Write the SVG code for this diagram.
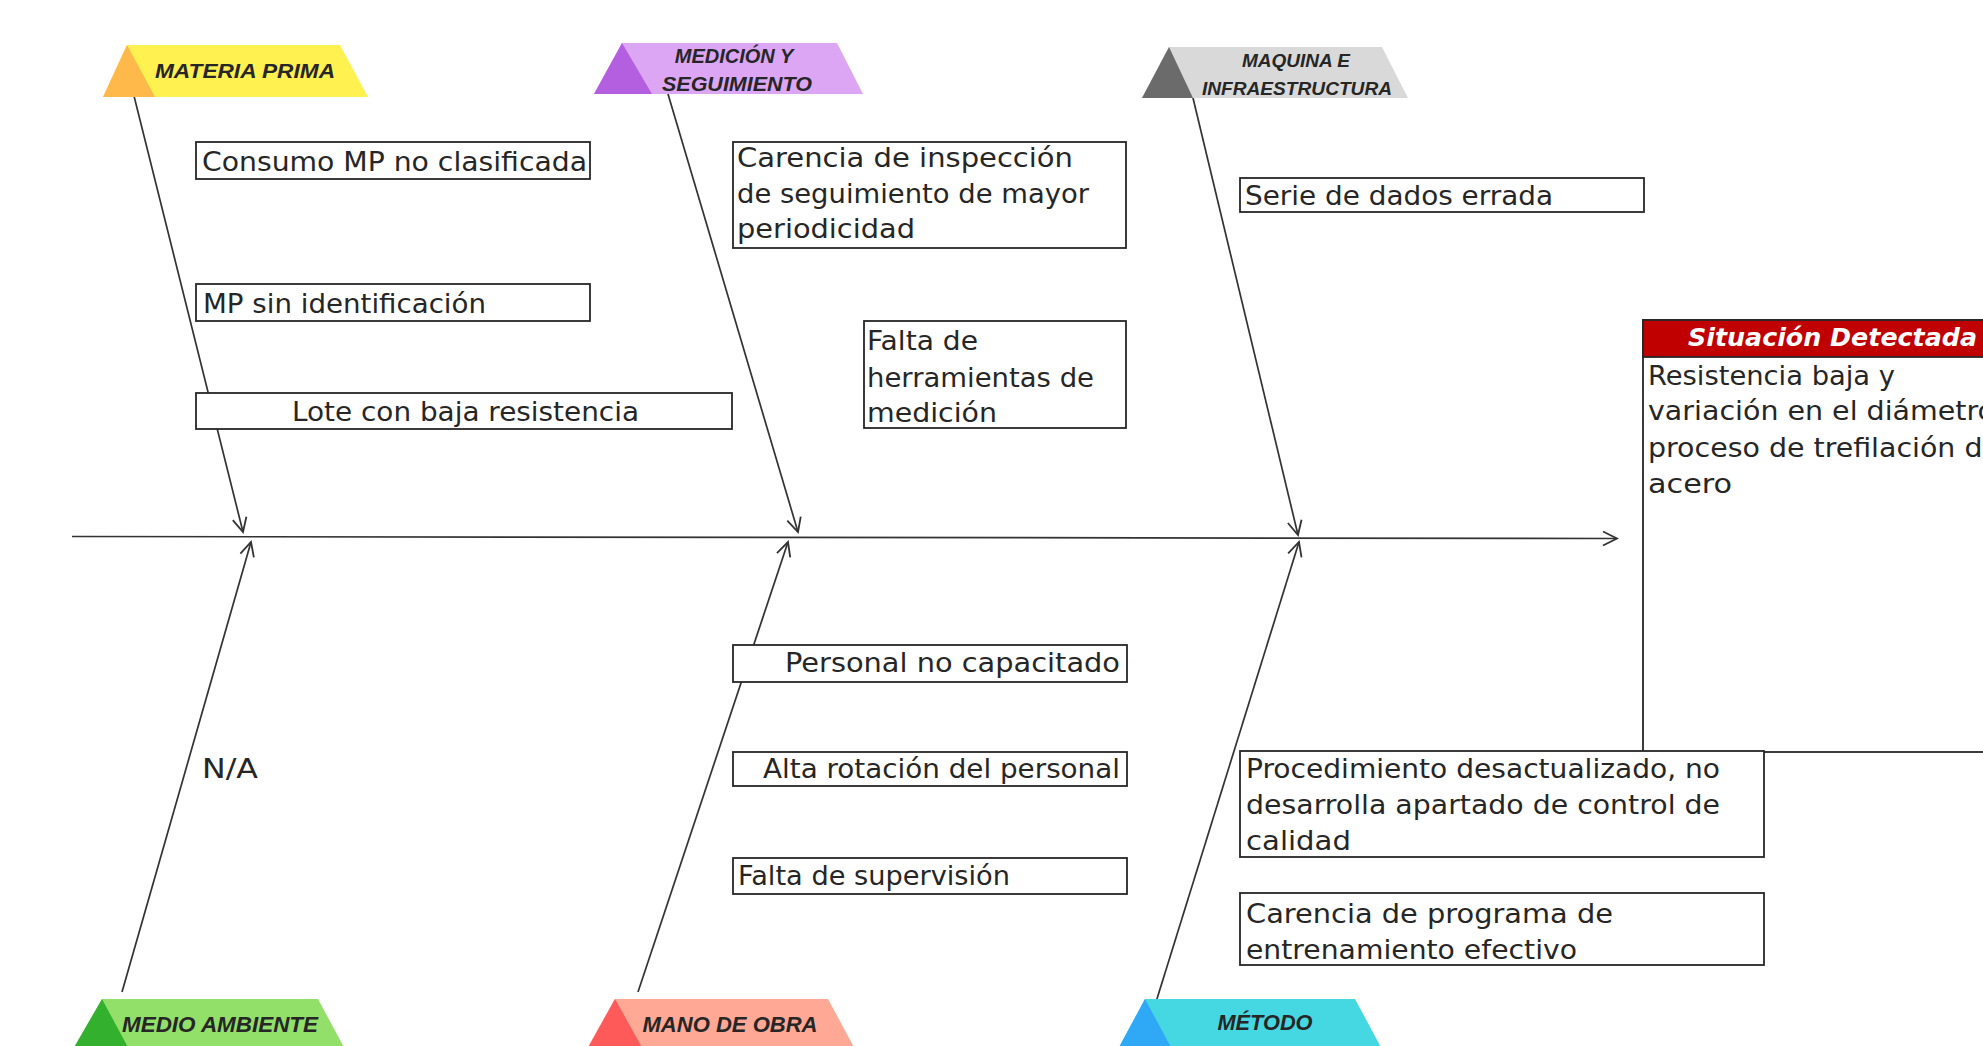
<svg xmlns="http://www.w3.org/2000/svg" width="1983" height="1046" viewBox="0 0 1983 1046">
<style>
.cat{font-family:"Liberation Sans",Arial,sans-serif;font-weight:bold;font-style:italic;fill:#262626;text-anchor:middle}
.box{fill:#fff;stroke:#262626;stroke-width:1.8}
.t{font-family:"DejaVu Sans","Noto Sans",sans-serif;font-size:26px;fill:#262626}
.ln{stroke:#333;stroke-width:1.7;fill:none}
</style>
<defs>
<marker id="ah" viewBox="0 0 18 18" refX="16" refY="9" markerWidth="18" markerHeight="18" markerUnits="userSpaceOnUse" orient="auto">
<path d="M2,2 L16,9 L2,16" fill="none" stroke="#333" stroke-width="1.8"/>
</marker>
</defs>
<rect width="1983" height="1046" fill="#fff"/>

<g id="connectors">
<line class="ln" x1="72" y1="536.5" x2="1617" y2="538.5" marker-end="url(#ah)"/>
<line class="ln" x1="133" y1="92" x2="243" y2="532" marker-end="url(#ah)"/>
<line class="ln" x1="668" y1="94" x2="798" y2="532" marker-end="url(#ah)"/>
<line class="ln" x1="1193" y1="98" x2="1298" y2="535" marker-end="url(#ah)"/>
<line class="ln" x1="122" y1="992" x2="251" y2="542" marker-end="url(#ah)"/>
<line class="ln" x1="638" y1="992" x2="788" y2="542" marker-end="url(#ah)"/>
<line class="ln" x1="1156" y1="1002" x2="1299" y2="542" marker-end="url(#ah)"/>
</g>

<g id="cat-materia-prima">
<polygon points="103,97 127,45 340,45 368,97" fill="#FFF150"/>
<polygon points="103,97 127,45 155,97" fill="#FFB84A"/>
<text class="cat" x="245" y="78" font-size="21" textLength="180" lengthAdjust="spacingAndGlyphs">MATERIA PRIMA</text>
</g>
<g id="cat-medicion">
<polygon points="594,94 622,43 837,43 863,94" fill="#DDA6F5"/>
<polygon points="594,94 622,43 652,94" fill="#B45FE0"/>
<text class="cat" x="734" y="63" font-size="20">MEDICIÓN Y</text>
<text class="cat" x="737" y="91" font-size="20" textLength="150" lengthAdjust="spacingAndGlyphs">SEGUIMIENTO</text>
</g>
<g id="cat-maquina">
<polygon points="1142,98 1169,47 1382,47 1408,98" fill="#D9D9D9"/>
<polygon points="1142,98 1169,47 1193,98" fill="#6B6B6B"/>
<text class="cat" x="1296" y="67" font-size="19">MAQUINA E</text>
<text class="cat" x="1297" y="95" font-size="19" textLength="190" lengthAdjust="spacingAndGlyphs">INFRAESTRUCTURA</text>
</g>
<g id="cat-medio-ambiente">
<polygon points="72,1051 102,999 318,999 346,1051" fill="#92E06A"/>
<polygon points="72,1051 102,999 130,1051" fill="#32B02E"/>
<text class="cat" x="220" y="1032" font-size="22" textLength="196" lengthAdjust="spacingAndGlyphs">MEDIO AMBIENTE</text>
</g>
<g id="cat-mano-de-obra">
<polygon points="586,1051 615,999 828,999 856,1051" fill="#FFA895"/>
<polygon points="586,1051 615,999 644,1051" fill="#FF5A5A"/>
<text class="cat" x="730" y="1032" font-size="22" textLength="175" lengthAdjust="spacingAndGlyphs">MANO DE OBRA</text>
</g>
<g id="cat-metodo">
<polygon points="1117,1051 1145,999 1355,999 1383,1051" fill="#45D8E3"/>
<polygon points="1117,1051 1145,999 1173,1051" fill="#2FA8F5"/>
<text class="cat" x="1265" y="1030" font-size="22" textLength="95" lengthAdjust="spacingAndGlyphs">MÉTODO</text>
</g>

<g id="c-consumo">
<rect class="box" x="196" y="142" width="394" height="37"/>
<text class="t" x="202" y="171" textLength="385" lengthAdjust="spacingAndGlyphs">Consumo MP no clasificada</text>
</g>
<g id="c-mp-sin">
<rect class="box" x="196" y="284" width="394" height="37"/>
<text class="t" x="203" y="313" textLength="283" lengthAdjust="spacingAndGlyphs">MP sin identificación</text>
</g>
<g id="c-lote">
<rect class="box" x="196" y="393" width="536" height="36"/>
<text class="t" x="292" y="421" textLength="347" lengthAdjust="spacingAndGlyphs">Lote con baja resistencia</text>
</g>
<g id="c-carencia-insp">
<rect class="box" x="733" y="142" width="393" height="106"/>
<text class="t" x="737" y="167" textLength="336" lengthAdjust="spacingAndGlyphs">Carencia de inspección</text>
<text class="t" x="737" y="203" textLength="352" lengthAdjust="spacingAndGlyphs">de seguimiento de mayor</text>
<text class="t" x="737" y="238" textLength="178" lengthAdjust="spacingAndGlyphs">periodicidad</text>
</g>
<g id="c-falta-herr">
<rect class="box" x="864" y="321" width="262" height="107"/>
<text class="t" x="867" y="350" textLength="111" lengthAdjust="spacingAndGlyphs">Falta de</text>
<text class="t" x="867" y="387" textLength="227" lengthAdjust="spacingAndGlyphs">herramientas de</text>
<text class="t" x="867" y="422" textLength="130" lengthAdjust="spacingAndGlyphs">medición</text>
</g>
<g id="c-serie">
<rect class="box" x="1240" y="178" width="404" height="34"/>
<text class="t" x="1245" y="205" textLength="308" lengthAdjust="spacingAndGlyphs">Serie de dados errada</text>
</g>
<g id="c-na">
<text class="t" x="202" y="778" textLength="56" lengthAdjust="spacingAndGlyphs">N/A</text>
</g>
<g id="c-personal">
<rect class="box" x="733" y="645" width="394" height="37"/>
<text class="t" x="785" y="672" textLength="335" lengthAdjust="spacingAndGlyphs">Personal no capacitado</text>
</g>
<g id="c-alta">
<rect class="box" x="733" y="752" width="394" height="34"/>
<text class="t" x="763" y="778" textLength="357" lengthAdjust="spacingAndGlyphs">Alta rotación del personal</text>
</g>
<g id="c-falta-sup">
<rect class="box" x="733" y="858" width="394" height="36"/>
<text class="t" x="738" y="885" textLength="272" lengthAdjust="spacingAndGlyphs">Falta de supervisión</text>
</g>

<g id="situacion">
<rect class="box" x="1643" y="320" width="360" height="432"/>
<rect x="1643" y="320" width="360" height="37" fill="#C00000" stroke="#262626" stroke-width="1.8"/>
<text x="1688" y="346" font-family="'DejaVu Sans','Noto Sans',sans-serif" font-size="25" font-weight="bold" font-style="italic" fill="#fff" textLength="289" lengthAdjust="spacingAndGlyphs">Situación Detectada</text>
<text class="t" x="1648" y="385" textLength="247" lengthAdjust="spacingAndGlyphs">Resistencia baja y</text>
<text class="t" x="1648" y="420" textLength="347" lengthAdjust="spacingAndGlyphs">variación en el diámetro</text>
<text class="t" x="1648" y="457" textLength="352" lengthAdjust="spacingAndGlyphs">proceso de trefilación de</text>
<text class="t" x="1648" y="493" textLength="84" lengthAdjust="spacingAndGlyphs">acero</text>
</g>

<g id="c-procedimiento">
<rect class="box" x="1240" y="751" width="524" height="106"/>
<text class="t" x="1246" y="778" textLength="474" lengthAdjust="spacingAndGlyphs">Procedimiento desactualizado, no</text>
<text class="t" x="1246" y="814" textLength="474" lengthAdjust="spacingAndGlyphs">desarrolla apartado de control de</text>
<text class="t" x="1246" y="850" textLength="105" lengthAdjust="spacingAndGlyphs">calidad</text>
</g>
<g id="c-carencia-prog">
<rect class="box" x="1240" y="893" width="524" height="72"/>
<text class="t" x="1246" y="923" textLength="367" lengthAdjust="spacingAndGlyphs">Carencia de programa de</text>
<text class="t" x="1246" y="959" textLength="331" lengthAdjust="spacingAndGlyphs">entrenamiento efectivo</text>
</g>
</svg>
